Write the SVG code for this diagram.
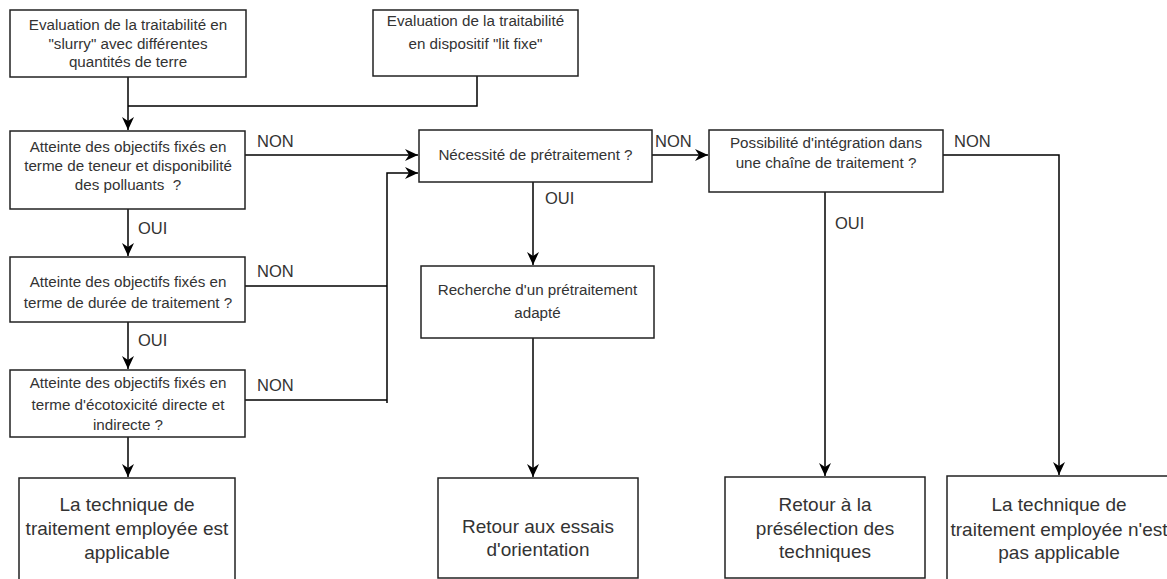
<svg xmlns="http://www.w3.org/2000/svg" width="1167" height="579" viewBox="0 0 1167 579">
<style>
.box{fill:#fff;stroke:#222;stroke-width:1.5}
.t{font-family:"Liberation Sans",Arial,sans-serif;font-size:15.2px;fill:#333;text-anchor:middle}
.b{font-family:"Liberation Sans",Arial,sans-serif;font-size:19px;fill:#333;text-anchor:middle}
.l{font-family:"Liberation Sans",Arial,sans-serif;font-size:16.5px;fill:#333}
.c{fill:none;stroke:#000;stroke-width:1.5}
</style>
<defs>
<marker id="ah" markerWidth="14" markerHeight="14" refX="13" refY="7" orient="auto" markerUnits="userSpaceOnUse">
<path d="M0,1 L13,7 L0,13 L4,7 z" fill="#000"/>
</marker>
</defs>
<rect width="1167" height="579" fill="#fff"/>
<g id="connectors">
<path class="c" d="M128,77 V130" marker-end="url(#ah)"/>
<path class="c" d="M477,76 V106 H128"/>
<path class="c" d="M245,155 H418" marker-end="url(#ah)"/>
<path class="c" d="M128,209 V256" marker-end="url(#ah)"/>
<path class="c" d="M245,286 H387"/>
<path class="c" d="M245,400 H387"/>
<path class="c" d="M387,403 V173 H418" marker-end="url(#ah)"/>
<path class="c" d="M128,322 V369" marker-end="url(#ah)"/>
<path class="c" d="M128,437 V477" marker-end="url(#ah)"/>
<path class="c" d="M652,155 H708" marker-end="url(#ah)"/>
<path class="c" d="M533,182 V265" marker-end="url(#ah)"/>
<path class="c" d="M533,338 V477" marker-end="url(#ah)"/>
<path class="c" d="M943,155 H1059 V475" marker-end="url(#ah)"/>
<path class="c" d="M825,192 V476" marker-end="url(#ah)"/>
<text class="l" x="257" y="147">NON</text>
<text class="l" x="257" y="277">NON</text>
<text class="l" x="257" y="391">NON</text>
<text class="l" x="655" y="147">NON</text>
<text class="l" x="954" y="147">NON</text>
<text class="l" x="138" y="234">OUI</text>
<text class="l" x="138" y="346">OUI</text>
<text class="l" x="545" y="204">OUI</text>
<text class="l" x="835" y="229">OUI</text>
</g>
<g id="n1"><rect class="box" x="10" y="10" width="236" height="67"/>
<text class="t" x="128" y="30">Evaluation de la traitabilité en</text>
<text class="t" x="128" y="49">"slurry" avec différentes</text>
<text class="t" x="128" y="67">quantités de terre</text></g>
<g id="n2"><rect class="box" x="373" y="10" width="205" height="66"/>
<text class="t" x="475.5" y="26">Evaluation de la traitabilité</text>
<text class="t" x="475.5" y="49">en dispositif "lit fixe"</text></g>
<g id="n3"><rect class="box" x="10" y="131" width="235" height="78"/>
<text class="t" x="128" y="152">Atteinte des objectifs fixés en</text>
<text class="t" x="128" y="171">terme de teneur et disponibilité</text>
<text class="t" x="128" y="190">des polluants&#160; ?</text></g>
<g id="n4"><rect class="box" x="10" y="257" width="235" height="65"/>
<text class="t" x="128" y="287">Atteinte des objectifs fixés en</text>
<text class="t" x="128" y="308">terme de durée de traitement ?</text></g>
<g id="n5"><rect class="box" x="10" y="370" width="235" height="67"/>
<text class="t" x="128" y="388">Atteinte des objectifs fixés en</text>
<text class="t" x="128" y="410">terme d'écotoxicité directe et</text>
<text class="t" x="128" y="430">indirecte ?</text></g>
<g id="n6"><rect class="box" x="419" y="130" width="233" height="52"/>
<text class="t" x="535.5" y="160">Nécessité de prétraitement ?</text></g>
<g id="n7"><rect class="box" x="709" y="130" width="234" height="62"/>
<text class="t" x="826" y="148">Possibilité d'intégration dans</text>
<text class="t" x="826" y="168">une chaîne de traitement ?</text></g>
<g id="n8"><rect class="box" x="421" y="266" width="233" height="72"/>
<text class="t" x="537.5" y="295">Recherche d'un prétraitement</text>
<text class="t" x="537.5" y="318">adapté</text></g>
<g id="n9"><rect class="box" x="19" y="478" width="216" height="110"/>
<text class="b" x="127" y="511">La technique de</text>
<text class="b" x="127" y="535">traitement employée est</text>
<text class="b" x="127" y="559">applicable</text></g>
<g id="n10"><rect class="box" x="438" y="478" width="200" height="100"/>
<text class="b" x="538" y="533">Retour aux essais</text>
<text class="b" x="538" y="556">d'orientation</text></g>
<g id="n11"><rect class="box" x="725" y="477" width="200" height="101"/>
<text class="b" x="825" y="511">Retour à la</text>
<text class="b" x="825" y="535">présélection des</text>
<text class="b" x="825" y="558">techniques</text></g>
<g id="n12"><rect class="box" x="947" y="476" width="226" height="110"/>
<text class="b" x="1059" y="511">La technique de</text>
<text class="b" x="1059" y="536">traitement employée n'est</text>
<text class="b" x="1059" y="559">pas applicable</text></g>
</svg>
